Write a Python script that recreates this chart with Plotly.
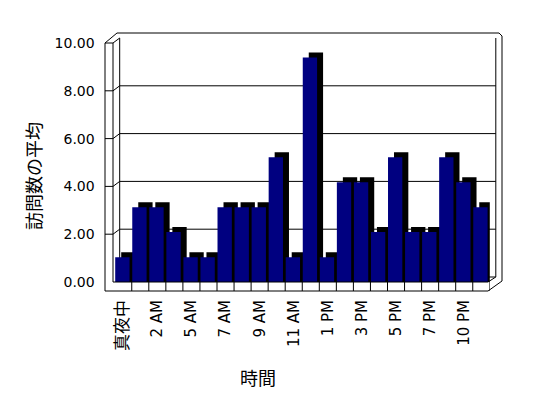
import plotly.graph_objects as go

# ---- data ----
categories = ["真夜中", "1 AM", "2 AM", "4 AM", "5 AM", "6 AM", "7 AM", "8 AM", "9 AM", "10 AM",
              "11 AM", "正午", "1 PM", "2 PM", "3 PM", "4 PM", "5 PM", "6 PM", "7 PM", "9 PM",
              "10 PM", "11 PM"]
values = [1.04, 3.13, 3.13, 2.09, 1.04, 1.04, 3.13, 3.13, 3.13, 5.22,
          1.04, 9.39, 1.04, 4.17, 4.17, 2.09, 5.22, 2.09, 2.09, 5.22,
          4.17, 3.13]
shown_ticks = categories[::2]
y_ticks = [0, 2, 4, 6, 8, 10]
x_title = "時間"
y_title = "訪問数の平均"

# ---- geometry (window pixels; page body has an 8px margin) ----
OFF = 8
W, H = 548 - 2 * OFF, 398 - 2 * OFF
def px(x): return (x - OFF) / W
def py(y): return 1 - (y - OFF) / H

FX0, FX1 = 114.7, 489.8      # front plane x extent
FY0, FY1 = 282.0, 43.0       # front plane y for v=0 / v=10
DX, DY = 5, 5                # depth offset to back wall
YMAX = 10
unit = (FY0 - FY1) / YMAX
def fy(v): return FY0 - unit * v

cat_px = (FX1 - FX0) / len(categories)
bar_w = 0.84
depth_x = 6 / cat_px
depth_v = 5 / unit

fig = go.Figure()

# depth (side + top faces)
fig.add_trace(go.Bar(x=categories, y=[v + depth_v for v in values],
                     width=bar_w, offset=-bar_w / 2 - 0.05 + depth_x,
                     marker=dict(color="#000000", line=dict(width=0)), hoverinfo="skip",
                     showlegend=False))
# front faces
fig.add_trace(go.Bar(x=categories, y=values,
                     width=bar_w, offset=-bar_w / 2 - 0.05,
                     marker=dict(color="#000080", line=dict(width=0)), showlegend=False))

line = dict(color="black", width=1)
shapes = []
def seg(x0, y0, x1, y1, layer="above"):
    shapes.append(dict(type="line", xref="paper", yref="paper",
                       x0=px(x0), y0=py(y0), x1=px(x1), y1=py(y1), line=line, layer=layer))

# back wall: gridlines at each tick value, shifted back by the depth offset
for v in y_ticks:
    shapes.append(dict(type="line", xref="paper", yref="y", ysizemode="pixel", yanchor=v,
                       x0=px(FX0 + DX), x1=px(FX1 + DX + 1), y0=DY, y1=DY,
                       line=line, layer="below"))
seg(FX0 + DX, FY1 - DY, FX0 + DX, FY0 - DY, "below")
seg(FX1 + DX + 1, FY1 - DY, FX1 + DX + 1, FY0 - DY, "below")

# left wall
seg(105, 43, 105, 291)
seg(113, 43, 113, 282)
seg(105, 43, 117, 33)
seg(113, 43, FX0 + DX, FY1 - DY)
for v in y_ticks[1:-1]:
    seg(105, fy(v), 113, fy(v))
    seg(113, fy(v), FX0 + DX, fy(v) - DY)
seg(105, 43, 113, 43)
# top / right outer edge
seg(117, 33, 499, 33)
seg(499, 33, 502, 36)
seg(502, 36, 502, 281)
# floor front strip
seg(105, 291, 488, 291)
seg(113, 282, 488, 282)
seg(488, 291, 502, 281)
seg(488, 282, FX1 + DX + 1, FY0 - DY)
for k in range(1, len(categories) + 1):
    shapes.append(dict(type="line", xref="x", yref="paper", x0=k - 0.5, x1=k - 0.5,
                       y0=py(291), y1=py(282), line=line, layer="above"))

y_tick_font = dict(family="DejaVu Sans, Noto Sans CJK JP", size=14, color="black")
x_tick_font = dict(family="DejaVu Sans, Noto Sans CJK JP", size=15, color="black")
ticktext = [f"<span style='font-size:17px'>{t}</span>" if not t[0].isdigit() else t
            for t in shown_ticks]

fig.update_layout(
    template="none",
    width=W, height=H, autosize=False,
    margin=dict(l=0, r=0, t=0, b=0, pad=0),
    paper_bgcolor="white", plot_bgcolor="white",
    barmode="overlay", showlegend=False,
    shapes=shapes,
    xaxis=dict(domain=[px(FX0), px(FX1)], range=[-0.5, len(categories) - 0.5],
               type="category", categoryorder="array", categoryarray=categories,
               tickvals=shown_ticks, ticktext=ticktext, tickangle=-90,
               tickfont=x_tick_font, showgrid=False, zeroline=False, showline=False,
               ticks="", ticklabelstandoff=14, automargin=False),
    yaxis=dict(domain=[py(FY0), py(FY1)], range=[0, YMAX], tickvals=y_ticks,
               ticktext=[f"{v:.2f}" for v in y_ticks], tickfont=y_tick_font,
               showgrid=False, zeroline=False, showline=False, ticks="",
               ticklabelstandoff=19, automargin=False),
    annotations=[
        dict(text=x_title, xref="paper", yref="paper", x=px(258), y=py(377),
             xanchor="center", yanchor="middle", showarrow=False,
             font=dict(family="Noto Sans CJK JP", size=18, color="black")),
        dict(text=y_title, xref="paper", yref="paper", x=px(33), y=py(176), textangle=-90,
             xanchor="center", yanchor="middle", showarrow=False,
             font=dict(family="Noto Sans CJK JP", size=18, color="black")),
    ],
)

fig.write_html("out.html")
